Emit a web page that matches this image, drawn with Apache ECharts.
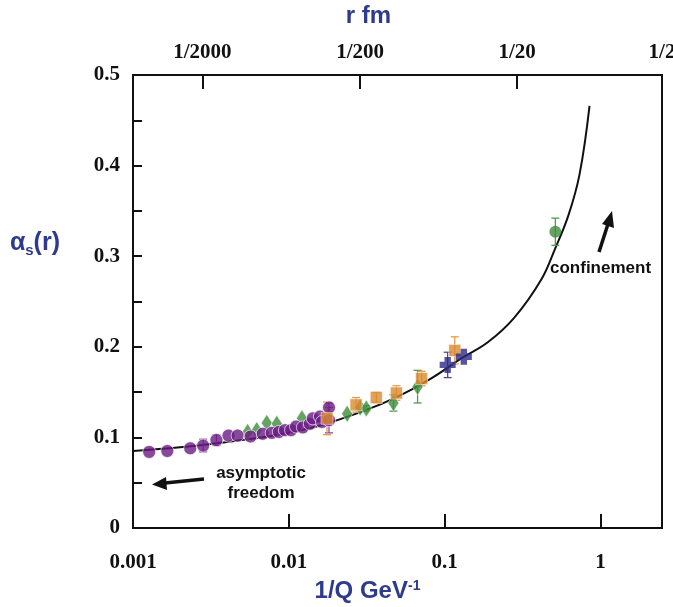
<!DOCTYPE html>
<html>
<head>
<meta charset="utf-8">
<title>alpha_s running</title>
<script src="https://cdn.jsdelivr.net/npm/echarts@6/dist/echarts.min.js"></script>
<style>
  html, body { margin: 0; padding: 0; background: #fff; }
</style>
</head>
<body>
<div id="main" style="width:673px;height:607px;"></div>
<script>
// ---- data (x = 1/Q in GeV^-1, y = alpha_s) ----
var curveX = [0.001, 0.002, 0.004, 0.008, 0.015, 0.03, 0.05, 0.08, 0.13, 0.189, 0.279, 0.416, 0.513, 0.622, 0.733, 0.85];
var curveY = [0.085, 0.089, 0.095, 0.102, 0.112, 0.129, 0.145, 0.164, 0.188, 0.205, 0.232, 0.274, 0.309, 0.345, 0.390, 0.466];

var purpleX = [0.00127, 0.00166, 0.00233, 0.00282, 0.00343, 0.0041, 0.00469, 0.00568, 0.0068, 0.00777, 0.00863, 0.00944, 0.01033, 0.01112, 0.0123, 0.01364, 0.01426, 0.01583, 0.01631, 0.0181, 0.0181];
var purpleY = [0.084, 0.085, 0.088, 0.091, 0.097, 0.102, 0.102, 0.101, 0.104, 0.105, 0.106, 0.108, 0.108, 0.112, 0.111, 0.115, 0.121, 0.123, 0.117, 0.133, 0.119];
var purpleErr = [0, 0, 0, 0.007, 0.006, 0, 0, 0, 0, 0, 0, 0, 0, 0, 0, 0, 0, 0, 0, 0.005, 0.014];

var greenX = [0.00544, 0.00622, 0.00722, 0.00837, 0.01214, 0.02367, 0.02871, 0.0314, 0.0469, 0.067];
var greenY = [0.106, 0.108, 0.116, 0.115, 0.121, 0.126, 0.133, 0.132, 0.138, 0.156];
var greenErr = [0, 0, 0, 0, 0, 0, 0, 0.003, 0.009, 0.018];

var orangeX = [0.01758, 0.027, 0.0364, 0.049, 0.0711, 0.1161];
var orangeY = [0.121, 0.136, 0.144, 0.149, 0.165, 0.196];
var orangeErr = [0.018, 0.008, 0.006, 0.008, 0.008, 0.015];

var blueX = [0.1045, 0.1327];
var blueY = [0.180, 0.189];
var blueErr = [0.014, 0];

var dotX = [0.513];
var dotY = [0.327];
var dotErr = [0.015];

var bottomTicks = [0.001, 0.01, 0.1, 1];
var topTickPos = [0.00279, 0.0287, 0.2917, 2.48];
var topTickLabels = ['1/2000', '1/200', '1/20', '1/2'];

function pts(xs, ys) {
  return xs.map(function (x, i) { return [x, ys[i]]; });
}
function bars(xs, ys, es) {
  var out = [];
  xs.forEach(function (x, i) {
    if (es[i] > 0) out.push([x, ys[i] - es[i], ys[i] + es[i]]);
  });
  return out;
}
function errSeries(data, color) {
  return {
    type: 'custom',
    xAxisIndex: 0,
    yAxisIndex: 0,
    z: 3,
    silent: true,
    data: data,
    renderItem: function (params, api) {
      var lo = api.coord([api.value(0), api.value(1)]);
      var hi = api.coord([api.value(0), api.value(2)]);
      var w = 4;
      var st = { stroke: color, lineWidth: 1.3 };
      return {
        type: 'group',
        children: [
          { type: 'line', shape: { x1: lo[0], y1: lo[1], x2: hi[0], y2: hi[1] }, style: st },
          { type: 'line', shape: { x1: lo[0] - w, y1: lo[1], x2: lo[0] + w, y2: lo[1] }, style: st },
          { type: 'line', shape: { x1: hi[0] - w, y1: hi[1], x2: hi[0] + w, y2: hi[1] }, style: st }
        ]
      };
    }
  };
}

var serif = '"Liberation Serif", "DejaVu Serif", serif';
var sans = '"Liberation Sans", Arial, sans-serif';
var blueText = '#2e3a8c';
var crossPath = 'path://M3,0H7V3H10V7H7V10H3V7H0V3H3Z';

var myChart = echarts.init(document.getElementById('main'));
myChart.setOption({
  animation: false,
  backgroundColor: '#fff',
  grid: {
    left: 133, right: 11, top: 75, bottom: 79,
    containLabel: false, outerBoundsMode: 'none',
    show: true, borderColor: '#111', borderWidth: 2
  },
  xAxis: [
    {
      type: 'log', logBase: 10, min: 0.001, max: 2.48, position: 'bottom',
      axisLine: { show: true, lineStyle: { color: '#111', width: 2 } },
      axisTick: { show: true, inside: true, length: 14, customValues: bottomTicks, lineStyle: { color: '#111', width: 2 } },
      axisLabel: {
        customValues: bottomTicks, margin: 24,
        color: '#111', fontFamily: serif, fontWeight: 'bold', fontSize: 21,
        formatter: function (v) { return String(+v.toPrecision(3)); }
      },
      splitLine: { show: false }, minorTick: { show: false },
      name: '{a|1/Q GeV}{s|-1}', nameLocation: 'middle', nameGap: 51,
      nameTextStyle: {
        padding: [0, 60, 0, 0],
        rich: {
          a: { color: blueText, fontFamily: sans, fontWeight: 'bold', fontSize: 24 },
          s: { color: blueText, fontFamily: sans, fontWeight: 'bold', fontSize: 14, verticalAlign: 'top', padding: [0, 0, 10, 0] }
        }
      }
    },
    {
      type: 'log', logBase: 10, min: 0.001, max: 2.48, position: 'top',
      axisLine: { show: true, lineStyle: { color: '#111', width: 2 } },
      axisTick: { show: true, inside: true, length: 14, customValues: topTickPos, lineStyle: { color: '#111', width: 2 } },
      axisLabel: {
        customValues: topTickPos, margin: 12,
        color: '#111', fontFamily: serif, fontWeight: 'bold', fontSize: 21,
        formatter: function (v) {
          var best = 0;
          topTickPos.forEach(function (p, i) {
            if (Math.abs(Math.log(p) - Math.log(v)) < Math.abs(Math.log(topTickPos[best]) - Math.log(v))) best = i;
          });
          return topTickLabels[best];
        }
      },
      splitLine: { show: false },
      name: 'r fm', nameLocation: 'middle', nameGap: 47,
      nameTextStyle: { color: blueText, fontFamily: sans, fontWeight: 'bold', fontSize: 24, padding: [0, 58, 0, 0] }
    }
  ],
  yAxis: [
    {
      type: 'value', min: 0, max: 0.5, interval: 0.1,
      axisLine: { show: true, lineStyle: { color: '#111', width: 2 } },
      axisTick: { show: true, inside: true, length: 9, lineStyle: { color: '#111', width: 2 } },
      minorTick: { show: true, splitNumber: 2, length: 9, lineStyle: { color: '#111', width: 2 } },
      axisLabel: {
        margin: 13, color: '#111', fontFamily: serif, fontWeight: 'bold', fontSize: 21,
        formatter: function (v) { return v === 0 ? '0' : v.toFixed(1); }
      },
      splitLine: { show: false },
      name: '{a|α}{s|s}{a|(r)}', nameLocation: 'middle', nameGap: 73, nameRotate: 0,
      nameTextStyle: {
        padding: [0, 0, 116, 0],
        rich: {
          a: { color: blueText, fontFamily: sans, fontWeight: 'bold', fontSize: 25 },
          s: { color: blueText, fontFamily: sans, fontWeight: 'bold', fontSize: 15, verticalAlign: 'bottom', padding: [14, 0, 0, 0] }
        }
      }
    }
  ],
  series: [
    {
      type: 'line', data: pts(curveX, curveY), smooth: 0.4, showSymbol: false, z: 2, silent: true,
      lineStyle: { color: '#111', width: 2 }
    },
    errSeries(bars(purpleX, purpleY, purpleErr), '#8a4aa6'),
    errSeries(bars(greenX, greenY, greenErr), '#4f9a4f'),
    errSeries(bars(orangeX, orangeY, orangeErr), '#e39a4c'),
    errSeries(bars(blueX, blueY, blueErr), '#4b48a0'),
    errSeries(bars(dotX, dotY, dotErr), '#4f9a4f'),
    {
      type: 'scatter', data: pts(greenX, greenY), symbol: 'diamond', symbolSize: [11, 17], z: 4,
      itemStyle: { color: '#3f8c3b', borderColor: '#fff', borderWidth: 0.6 }
    },
    {
      type: 'scatter', data: pts(purpleX, purpleY), symbol: 'circle', symbolSize: 13, z: 5,
      itemStyle: { color: '#6a1b85', borderColor: '#fff', borderWidth: 0.8 }
    },
    {
      type: 'scatter', data: pts(orangeX, orangeY), symbol: 'rect', symbolSize: 12, z: 6,
      itemStyle: { color: '#d98a2e', borderColor: '#fff', borderWidth: 0.6 }
    },
    {
      type: 'scatter', data: pts(blueX, blueY), symbol: crossPath, symbolSize: 16, z: 7,
      itemStyle: { color: '#2c2a85' }
    },
    {
      type: 'scatter', data: pts(dotX, dotY), symbol: 'circle', symbolSize: 12, z: 7,
      itemStyle: { color: '#3f8c3b' }
    }
  ],
  graphic: [
    {
      type: 'text', left: 550, top: 260,
      style: { text: 'confinement', fill: '#111', font: 'bold 17px ' + sans }
    },
    {
      type: 'line', shape: { x1: 599, y1: 252, x2: 608, y2: 224 },
      style: { stroke: '#111', lineWidth: 3.5 }
    },
    {
      type: 'polygon', shape: { points: [[612, 211], [614, 228], [602, 224]] },
      style: { fill: '#111' }
    },
    {
      type: 'text', x: 261, y: 463,
      style: { text: 'asymptotic\nfreedom', fill: '#111', font: 'bold 17px ' + sans, align: 'center', lineHeight: 20 }
    },
    {
      type: 'line', shape: { x1: 204, y1: 479, x2: 165, y2: 483 },
      style: { stroke: '#111', lineWidth: 3.5 }
    },
    {
      type: 'polygon', shape: { points: [[152, 484.5], [166, 477], [167, 490]] },
      style: { fill: '#111' }
    }
  ]
});
</script>
</body>
</html>
